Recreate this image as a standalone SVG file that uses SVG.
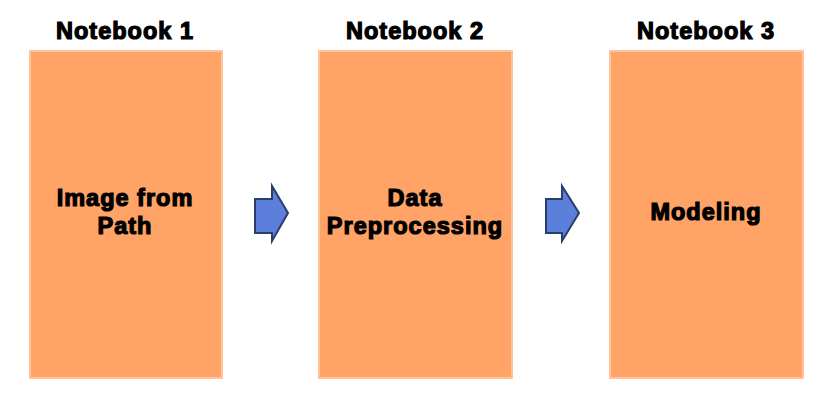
<svg xmlns="http://www.w3.org/2000/svg" width="832" height="415" viewBox="0 0 832 415">
<style>
.box{fill:#FFA366;stroke:#FFC39C;stroke-width:2}
.t{font-family:"Liberation Sans",Arial,sans-serif;font-weight:bold;font-size:23.5px;fill:#000;stroke:#000;stroke-width:1.2;text-anchor:middle;letter-spacing:1px}
.arr{fill:#5B7FDB;stroke:#2B3D6B;stroke-width:2;stroke-linejoin:miter}
</style>
<rect width="832" height="415" fill="#fff"/>
<g id="nb1">
<text class="t" x="125" y="39">Notebook 1</text>
<rect class="box" x="30" y="51" width="192" height="327"/>
<text class="t" x="125" y="206">Image from</text>
<text class="t" x="125" y="234">Path</text>
</g>
<g id="nb2">
<text class="t" x="415" y="39">Notebook 2</text>
<rect class="box" x="319" y="51" width="193" height="327"/>
<text class="t" x="415" y="206">Data</text>
<text class="t" x="415" y="234">Preprocessing</text>
</g>
<g id="nb3">
<text class="t" x="706" y="39">Notebook 3</text>
<rect class="box" x="610" y="51" width="193" height="327"/>
<text class="t" x="706" y="220">Modeling</text>
</g>
<g id="connectors">
<polygon class="arr" points="255,199 272,199 272,186 288,213 272,241 272,233 255,233"/>
<polygon class="arr" points="546,199 562,199 562,186 579,213 562,241 562,233 546,233"/>
</g>
</svg>
